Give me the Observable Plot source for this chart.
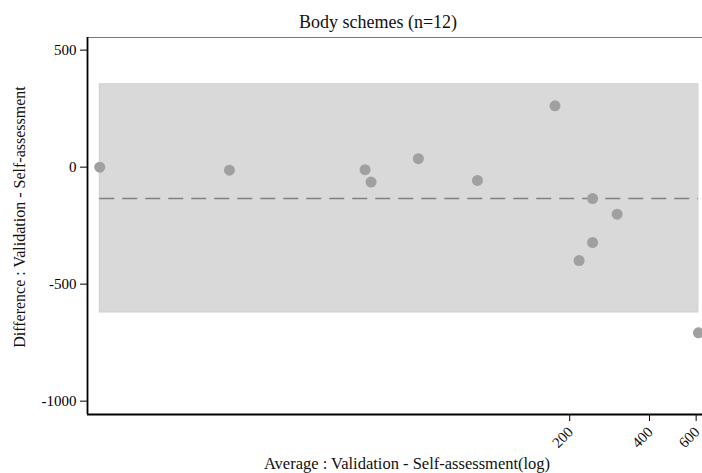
<!DOCTYPE html>
<html>
<head>
<meta charset="utf-8">
<script src="https://cdn.jsdelivr.net/npm/d3@7"></script>
<script src="https://cdn.jsdelivr.net/npm/@observablehq/plot@0.6"></script>
<style>
  html, body { margin: 0; padding: 0; background: white; overflow: hidden; }
  #title { position: relative; width: 702px; height: 30px; font-family: "Liberation Serif", serif; font-size: 18px; }
  #title span { position: absolute; left: 378px; top: 13px; line-height: 1; transform: translateX(-50%); white-space: nowrap; color: #111; }
  svg text { font-family: "Liberation Serif", serif; }
</style>
</head>
<body>
<div id="title"><span>Body schemes (n=12)</span></div>
<div id="chart"></div>
<script>
// Bland–Altman data
const average = [3.37, 10.4, 33.8, 35.6, 53.7, 89.7, 176, 244, 302, 244, 217, 612];
const difference = [0, -13, -11, -64, 36, -57, 262, -134, -201, -322, -399, -708];
const meanDiff = -134;
const upperLoA = 354;
const lowerLoA = -621;
const xTicks = [200, 400, 600];
const yTicks = [500, 0, -500, -1000];
const xDomain = [3.03, 634];
const yDomain = [-1057, 554];

const FONT = "Liberation Serif";
const points = average.map((a, i) => ({avg: a, diff: difference[i]}));
const xmin = d3.min(average), xmax = d3.max(average);
const band = [{x1: xmin, x2: xmax, y1: lowerLoA, y2: upperLoA}];
const meanRow = [{x1: xmin, x2: xmax, y: meanDiff}];

const chart = Plot.plot({
  width: 702,
  height: 443,
  marginTop: 7,
  marginBottom: 59,
  marginLeft: 87,
  marginRight: 0,
  style: {fontFamily: FONT, fontSize: "15px", color: "black", background: "white", overflow: "visible"},
  x: {type: "log", domain: xDomain},
  y: {domain: yDomain},
  marks: [
    Plot.rect(band, {x1: "x1", x2: "x2", y1: "y1", y2: "y2", fill: "#d9d9d9", stroke: "#cfcfcf", strokeWidth: 1}),
    Plot.ruleY(meanRow, {y: "y", x1: "x1", x2: "x2", stroke: "#808080", strokeWidth: 1.6, strokeDasharray: "15,8"}),
    Plot.dot(points, {x: "avg", y: "diff", r: 5.5, fill: "#a0a0a0", stroke: "none"}),
    Plot.ruleY([yDomain[1]], {stroke: "#777", strokeWidth: 1}),
    Plot.ruleX([xDomain[0]], {stroke: "black", strokeWidth: 1.8}),
    Plot.ruleY([yDomain[0]], {stroke: "black", strokeWidth: 1.8}),
    Plot.axisY({ticks: yTicks, tickFormat: d => String(d), tickSize: 7, tickPadding: 4, fontSize: 15, fontFamily: FONT, label: null, stroke: "black"}),
    Plot.axisX({ticks: xTicks, text: null, tickSize: 7, label: null, stroke: "black"}),
    Plot.text(xTicks, {x: d => d, frameAnchor: "bottom", text: d => String(d), rotate: -45, textAnchor: "end", lineAnchor: "middle", dx: 1, dy: 15, fontSize: 15, fontFamily: FONT, fill: "#111"}),
    Plot.text(["Average : Validation - Self-assessment(log)"], {frameAnchor: "bottom", textAnchor: "middle", lineAnchor: "middle", dx: 12, dy: 49, fontSize: 16.5, fontFamily: FONT, fill: "#111"}),
    Plot.text(["Difference : Validation - Self-assessment"], {frameAnchor: "left", textAnchor: "middle", lineAnchor: "middle", dx: -68, dy: -9, rotate: -90, fontSize: 16, fontFamily: FONT, fill: "#111"})
  ]
});
document.getElementById("chart").appendChild(chart);
</script>
</body>
</html>
